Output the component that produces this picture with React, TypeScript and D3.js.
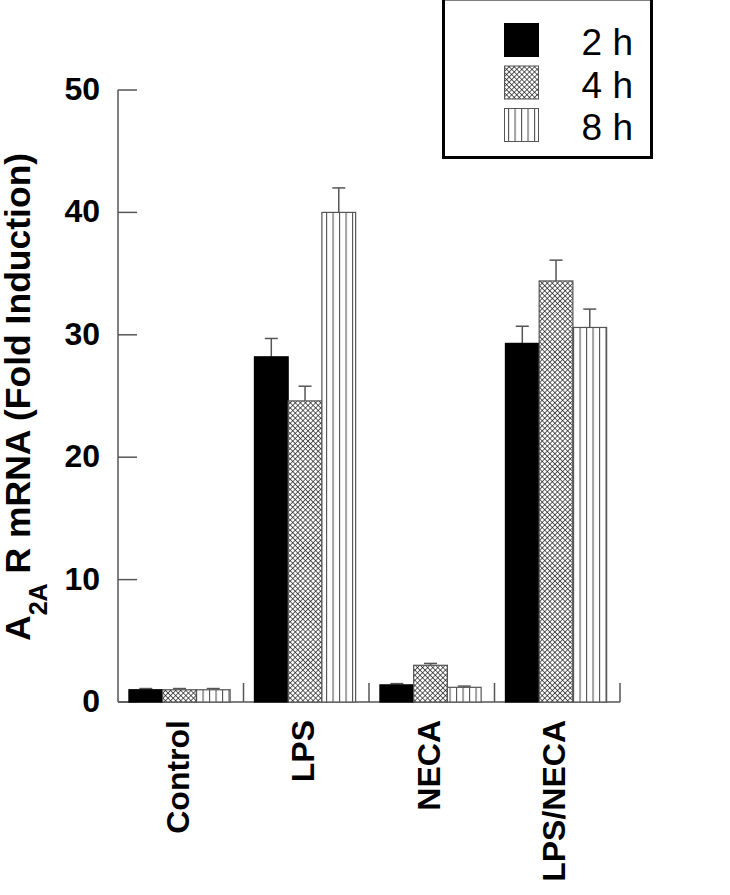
import React from "react";
import * as d3 from "d3";

const categories = ["Control", "LPS", "NECA", "LPS/NECA"];
const seriesNames = ["2 h", "4 h", "8 h"];
const values2h = [1.0, 28.2, 1.4, 29.3];
const values4h = [1.0, 24.6, 3.0, 34.4];
const values8h = [1.0, 40.0, 1.2, 30.6];
const errors2h = [0.1, 1.5, 0.1, 1.4];
const errors4h = [0.1, 1.2, 0.15, 1.7];
const errors8h = [0.1, 2.0, 0.1, 1.5];
const yTicks = [0, 10, 20, 30, 40, 50];

const W = 730;
const H = 895;
const x0 = 118;
const x1 = 620;
const yTop = 90;
const yBottom = 702;

export default function App() {
  const y = d3.scaleLinear().domain([0, 50]).range([yBottom, yTop]);
  const xCat = d3.scaleBand<string>().domain(categories).range([x0, x1]).padding(0);
  const xSub = d3
    .scaleBand<string>()
    .domain(seriesNames)
    .range([0, xCat.bandwidth()])
    .paddingInner(0)
    .paddingOuter(0.36)
    .align(0.45);
  const allVals = [values2h, values4h, values8h];
  const allErr = [errors2h, errors4h, errors8h];
  const fills = ["#000", "url(#cross)", "url(#vert)"];
  const font = "'Liberation Sans', Arial, sans-serif";

  const bars: React.ReactNode[] = [];
  categories.forEach((c, ci) => {
    seriesNames.forEach((s, si) => {
      const v = allVals[si][ci];
      const e = allErr[si][ci];
      const bx = (xCat(c) as number) + (xSub(s) as number);
      const bw = xSub.bandwidth();
      const cx = bx + bw / 2;
      bars.push(
        <g key={c + s}>
          <line x1={cx} x2={cx} y1={y(v)} y2={y(v + e)} stroke="#555" strokeWidth={1.5} />
          <line x1={cx - 6.5} x2={cx + 6.5} y1={y(v + e)} y2={y(v + e)} stroke="#555" strokeWidth={1.5} />
          <rect
            x={bx}
            y={y(v)}
            width={bw}
            height={yBottom - y(v)}
            fill={fills[si]}
            stroke={si === 0 ? "#000" : "#555"}
            strokeWidth={1.2}
          />
        </g>
      );
    });
  });

  const legendY = [23.5, 66, 108.5];

  return (
    <svg
      width={W}
      height={H}
      style={{ position: "absolute", left: 0, top: 0, background: "#fff" }}
    >
      <defs>
        <pattern id="cross" width={3.6} height={3.6} patternUnits="userSpaceOnUse" patternTransform="rotate(45)">
          <rect width={3.6} height={3.6} fill="#fff" />
          <line x1={0} y1={0} x2={0} y2={3.6} stroke="#111" strokeWidth={1.3} />
          <line x1={0} y1={0} x2={3.6} y2={0} stroke="#111" strokeWidth={1.3} />
        </pattern>
        <pattern id="vert" width={6.5} height={10} patternUnits="userSpaceOnUse" x={1}>
          <rect width={6.5} height={10} fill="#fff" />
          <line x1={0.5} y1={0} x2={0.5} y2={10} stroke="#555" strokeWidth={1.2} />
        </pattern>
      </defs>

      {/* y axis */}
      <line x1={x0} x2={x0} y1={yTop} y2={yBottom} stroke="#555" strokeWidth={1.5} />
      {yTicks.map((t) => (
        <g key={t}>
          <line x1={x0} x2={x0 + 19} y1={y(t)} y2={y(t)} stroke="#555" strokeWidth={1.5} />
          <text
            x={100}
            y={y(t) + 10}
            textAnchor="end"
            fontFamily={font}
            fontWeight="bold"
            fontSize={32}
            fill="#000"
          >
            {t}
          </text>
        </g>
      ))}

      {/* x axis */}
      <line x1={x0} x2={x1} y1={yBottom} y2={yBottom} stroke="#555" strokeWidth={1.5} />
      {categories.map((c) => {
        const xe = (xCat(c) as number) + xCat.bandwidth();
        return <line key={c} x1={xe} x2={xe} y1={yBottom} y2={yBottom - 19} stroke="#555" strokeWidth={1.5} />;
      })}

      {bars}

      {categories.map((c) => {
        const cx = (xCat(c) as number) + xCat.bandwidth() / 2;
        return (
          <text
            key={c}
            transform={`translate(${cx + 8},720) rotate(-90)`}
            textAnchor="end"
            fontFamily={font}
            fontWeight="bold"
            fontSize={32}
            fill="#000"
          >
            {c}
          </text>
        );
      })}

      {/* y title */}
      <text
        transform={`translate(30,641) rotate(-90)`}
        textAnchor="start"
        fontFamily={font}
        fontWeight="bold"
        fontSize={35.5}
        fill="#000"
      >
        A<tspan fontSize={25} dy={17}>2A</tspan>
        <tspan dy={-17}> R mRNA (Fold Induction)</tspan>
      </text>

      {/* legend */}
      <rect x={443.5} y={-1} width={208} height={158.5} fill="#fff" stroke="#000" strokeWidth={3} />
      {seriesNames.map((s, i) => (
        <g key={s}>
          <rect
            x={504.5}
            y={legendY[i]}
            width={34}
            height={33}
            fill={fills[i]}
            stroke={i === 0 ? "#000" : "#555"}
            strokeWidth={1}
          />
          <text
            x={633}
            y={legendY[i] + 31.5}
            textAnchor="end"
            fontFamily={font}
            fontSize={37}
            fill="#000"
          >
            {s}
          </text>
        </g>
      ))}
    </svg>
  );
}
